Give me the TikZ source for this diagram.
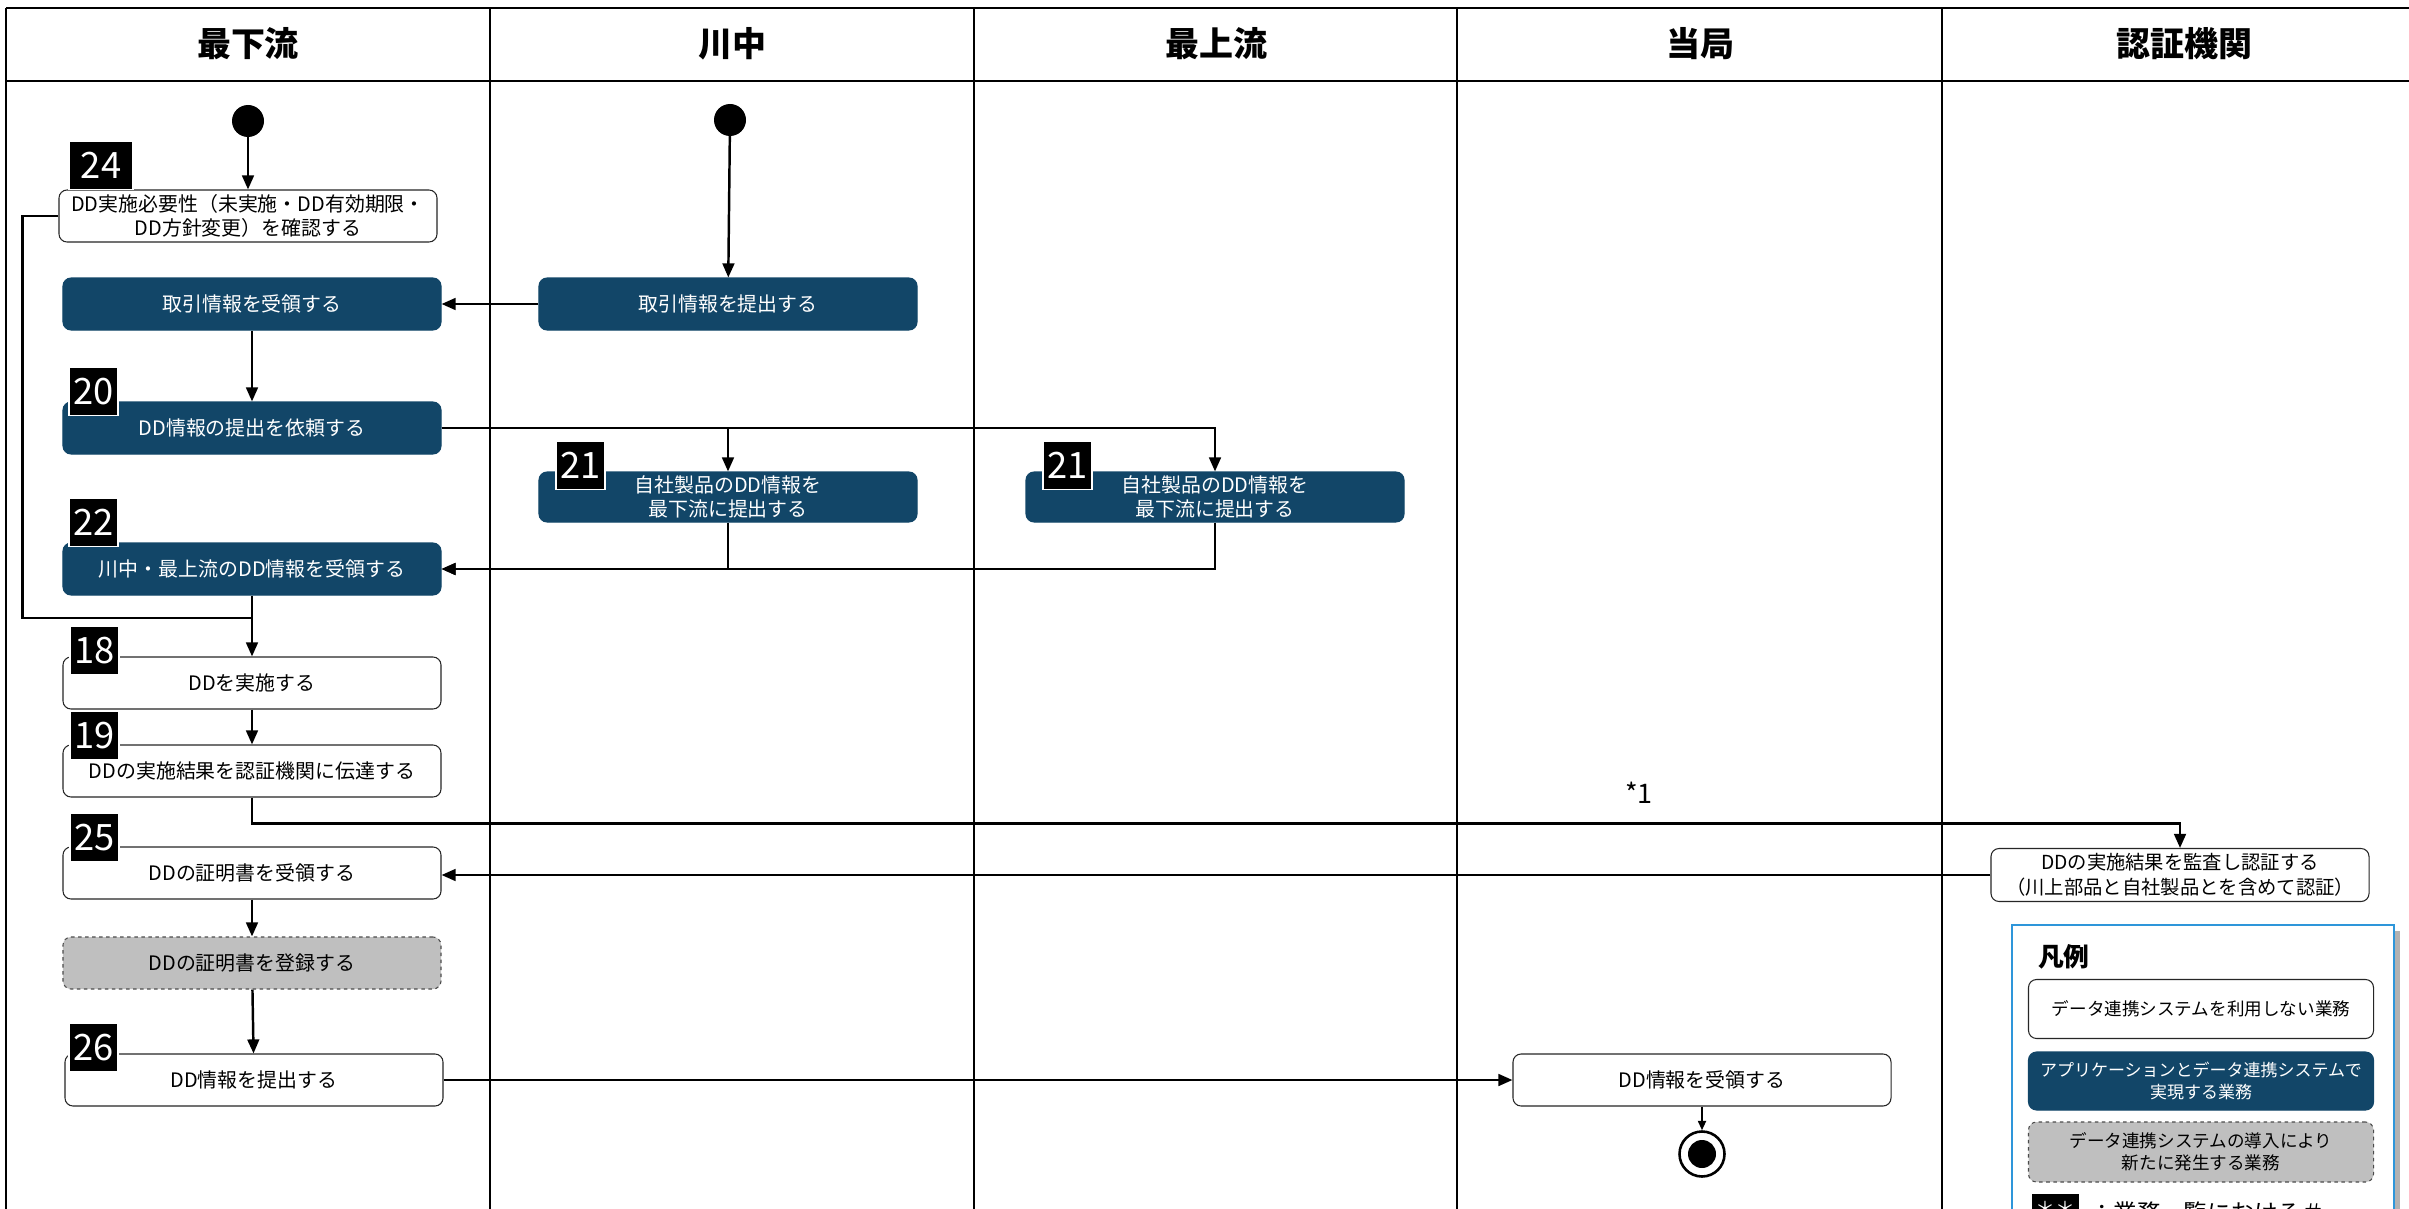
\documentclass[tikz,border=0pt]{standalone}
\usepackage{fontspec}
\setmainfont{Noto Sans CJK JP}
\usepackage{xcolor}
\usepackage{tikz}
\usetikzlibrary{arrows.meta,positioning,calc}

\definecolor{navy}{RGB}{18,70,104}
\definecolor{greybox}{RGB}{191,191,191}
\definecolor{legendblue}{RGB}{46,150,218}

\begin{document}
\begin{tikzpicture}[x=0.03cm, y=-0.03cm,
    task/.style={rectangle, rounded corners=0.24cm, draw=black!85, line width=0.9pt, fill=white, minimum width=11.34cm, minimum height=1.56cm, align=center, inner sep=2pt, font=\fontsize{17}{21}\selectfont},
    apptask/.style={task, draw=navy, fill=navy, text=white},
    newtask/.style={task, dashed, draw=black!70, fill=greybox},
    tag/.style={rectangle, fill=black, draw=white, line width=1pt, text=white, minimum width=1.47cm, minimum height=1.45cm, inner sep=0pt, anchor=south west, font=\fontsize{31}{31}\selectfont},
    lane/.style={font=\bfseries\fontsize{29}{29}\selectfont},
    startnode/.style={circle, fill=black, minimum size=0.96cm, inner sep=0pt},
    endnode/.style={circle, draw=black, line width=2.2pt, fill=white, minimum size=1.35cm, inner sep=0pt},
    arrow/.style={line width=2.1pt, -{Triangle[length=12pt,width=10pt]}},
    smallarrow/.style={line width=1.3pt, -{Triangle[length=8pt,width=7pt]}},
    link/.style={line width=2.1pt}]

    \useasboundingbox (0,0) rectangle (2409,1209);
    \clip (0,0) rectangle (2409,1209);

    % swimlanes
    \draw[line width=2.4pt] (6,8) -- (2430,8);
    \draw[line width=2.4pt] (6,81) -- (2430,81);
    \foreach \x in {6,490,974,1457,1942}
        \draw[line width=1.6pt] (\x,8) -- (\x,1230);
    \node[lane] (lane1) at (248,44) {最下流};
    \node[lane] (lane2) at (732,44) {川中};
    \node[lane] (lane3) at (1216,44) {最上流};
    \node[lane] (lane4) at (1700,44) {当局};
    \node[lane] (lane5) at (2184,44) {認証機関};

    % 最下流
    \node[startnode] (start1) at (248,121) {};
    \node[task] (chk) at (248,216) {DD実施必要性（未実施・DD有効期限・\\DD方針変更）を確認する};
    \node[apptask] (recv) at (252,304) {取引情報を受領する};
    \node[apptask] (ask) at (252,428) {DD情報の提出を依頼する};
    \node[apptask] (collect) at (252,569) {川中・最上流のDD情報を受領する};
    \node[task] (exec) at (252,683) {DDを実施する};
    \node[task] (report) at (252,771) {DDの実施結果を認証機関に伝達する};
    \node[task] (cert) at (252,873) {DDの証明書を受領する};
    \node[newtask] (regist) at (252,963) {DDの証明書を登録する};
    \node[task] (submit) at (254,1080) {DD情報を提出する};
    \coordinate (merge) at (252,618);

    % 川中・最上流
    \node[startnode] (start2) at (730,120) {};
    \node[apptask] (give) at (728,304) {取引情報を提出する};
    \node[apptask, minimum height=1.5cm] (midsup) at (728,497) {自社製品のDD情報を\\最下流に提出する};
    \node[apptask, minimum height=1.5cm] (topsup) at (1215,497) {自社製品のDD情報を\\最下流に提出する};

    % 当局・認証機関
    \node[task] (gov) at (1702,1080) {DD情報を受領する};
    \node[endnode] (fin) at (1702,1154) {};
    \node[startnode, minimum size=0.84cm] (findot) at (fin) {};
    \node[task, minimum height=1.59cm, font=\fontsize{16.5}{21}\selectfont] (audit) at (2180,875) {DDの実施結果を監査し認証する\\（川上部品と自社製品とを含めて認証）};
    \node[font=\fontsize{23}{23}\selectfont] (note) at (1639,793) {*1};

    % numbers
    \node[tag, minimum width=1.92cm] (n24) at ([shift={(10,1)}]chk.north west) {24};
    \node[tag] (n20) at ([shift={(6,15)}]ask.north west) {20};
    \node[tag] (n22) at ([shift={(6,5)}]collect.north west) {22};
    \node[tag] (n21a) at ([shift={(17,19)}]midsup.north west) {21};
    \node[tag] (n21b) at ([shift={(17,19)}]topsup.north west) {21};
    \node[tag] (n18) at ([shift={(7,19)}]exec.north west) {18};
    \node[tag] (n19) at ([shift={(7,16)}]report.north west) {19};
    \node[tag] (n25) at ([shift={(7,16)}]cert.north west) {25};
    \node[tag] (n26) at ([shift={(4,19)}]submit.north west) {26};

    % flow
    \draw[arrow] (start1) -- (chk);
    \draw[link] (chk.west) -- ++(-36,0) |- (merge);
    \draw[arrow] (start2) -- (give);
    \draw[arrow] (give) -- (recv);
    \draw[arrow] (recv) -- (ask);
    \draw[arrow] (ask.east) -| (midsup.north);
    \draw[arrow] (ask.east) -| (topsup.north);
    \draw[arrow] (midsup.south) |- (collect.east);
    \draw[arrow] (topsup.south) |- (collect.east);
    \draw[arrow] (collect) -- (exec);
    \draw[arrow] (exec) -- (report);
    \draw[arrow] (report.south) -- ++(0,26) -| (audit.north);
    \draw[arrow] (audit.west) -- (audit.west -| cert.east);
    \draw[arrow] (cert) -- (regist);
    \draw[arrow] (regist) -- (submit);
    \draw[arrow] (submit) -- (gov);
    \draw[smallarrow] (gov) -- (fin);

    % legend
    \fill[black!30] (2018,931) rectangle (2400,1260);
    \draw[legendblue, line width=1.6pt, fill=white] (2012,925) rectangle (2394,1260);
    \node[anchor=west, font=\bfseries\fontsize{22}{22}\selectfont] (lgd) at (2034,957) {凡例};
    \node[task, minimum width=10.35cm, minimum height=1.77cm, font=\fontsize{15}{19}\selectfont] (key1) at (2201,1009) {データ連携システムを利用しない業務};
    \node[apptask, minimum width=10.35cm, minimum height=1.74cm, font=\fontsize{14.5}{19}\selectfont] (key2) at (2201,1081) {アプリケーションとデータ連携システムで\\実現する業務};
    \node[newtask, minimum width=10.35cm, minimum height=1.8cm, font=\fontsize{15}{19}\selectfont] (key3) at (2201,1152) {データ連携システムの導入により\\新たに発生する業務};
    \node[tag, anchor=north west, draw=none, minimum width=1.41cm, minimum height=0.9cm, text depth=0pt, font=\fontsize{17}{17}\selectfont] (key4) at (2031,1193) {＊＊};
    \node[anchor=west, font=\fontsize{20}{20}\selectfont] (key4txt) at (2086,1213) {：業務一覧における＃};

\end{tikzpicture}
\end{document}
